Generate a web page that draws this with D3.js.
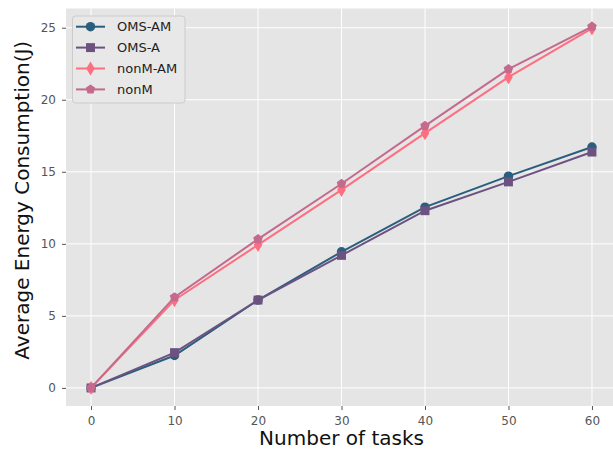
<!DOCTYPE html>
<html><head><meta charset="utf-8">
<script src="https://cdn.jsdelivr.net/npm/d3@7"></script>
<style>body{margin:0;background:#fff}svg{display:block;font-family:"DejaVu Sans",sans-serif}</style>
</head><body><svg id="c" width="613" height="451"></svg>
<script>
const tasks = [0, 10, 20, 30, 40, 50, 60];
const omsAM = [0, 2.25, 6.1, 9.45, 12.55, 14.7, 16.72];
const omsA = [0, 2.45, 6.1, 9.2, 12.3, 14.3, 16.37];
const nonMAM = [0, 6.1, 9.93, 13.75, 17.68, 21.57, 24.95];
const nonM = [0, 6.3, 10.33, 14.17, 18.19, 22.13, 25.08];
const seriesNames = ["OMS-AM", "OMS-A", "nonM-AM", "nonM"];
const xTicks = [0, 10, 20, 30, 40, 50, 60];
const yTicks = [0, 5, 10, 15, 20, 25];

const colors = ["#2a5e7e", "#6c5280", "#ff6e80", "#c46a8c"];
const symbols = ["circle", "square", "thindiamond", "pentagon"];
const series = [omsAM, omsA, nonMAM, nonM];

const svg = d3.select("#c");
const L = 66, R = 617, T = 8.5, B = 406;
const xmin = d3.min(tasks), xmax = d3.max(tasks), xp = (xmax - xmin) * 0.05;
const allY = series.flat();
const ymin = d3.min(allY), ymax = d3.max(allY), yp = (ymax - ymin) * 0.05;
const x = d3.scaleLinear().domain([xmin - xp, xmax + xp]).range([L, R]);
const y = d3.scaleLinear().domain([ymin - yp, ymax + yp]).range([B, T]);

svg.append("rect").attr("x", L).attr("y", T).attr("width", R - L).attr("height", B - T).attr("fill", "#e5e5e5");
const g = svg.append("g");
g.selectAll(".gx").data(xTicks).enter().append("line")
  .attr("x1", d => x(d)).attr("x2", d => x(d)).attr("y1", T).attr("y2", B)
  .attr("stroke", "#fff").attr("stroke-width", 1);
g.selectAll(".gy").data(yTicks).enter().append("line")
  .attr("y1", d => y(d)).attr("y2", d => y(d)).attr("x1", L).attr("x2", R)
  .attr("stroke", "#fff").attr("stroke-width", 1);

const xa = svg.append("g").attr("transform", `translate(0,${B})`)
  .call(d3.axisBottom(x).tickValues(xTicks).tickSize(4).tickPadding(6));
const ya = svg.append("g").attr("transform", `translate(${L},0)`)
  .call(d3.axisLeft(y).tickValues(yTicks).tickSize(4).tickPadding(6));
[xa, ya].forEach(a => {
  a.select(".domain").remove();
  a.selectAll("line").attr("stroke", "#555");
  a.selectAll("text").attr("fill", "#555").style("font-size", "12px").style("font-family", "DejaVu Sans");
});

function sym(name, size) {
  if (name === "circle") return d3.symbol(d3.symbolCircle, size)();
  if (name === "square") return d3.symbol(d3.symbolSquare, size)();
  if (name === "thindiamond") {
    const h = Math.sqrt(size) * 0.75, w = h * 0.6;
    return `M0,${-h}L${w},0L0,${h}L${-w},0Z`;
  }
  if (name === "pentagon") {
    const r = Math.sqrt(size) * 0.6;
    let p = "";
    for (let i = 0; i < 5; i++) {
      const a = -Math.PI / 2 + i * 2 * Math.PI / 5;
      p += (i ? "L" : "M") + (r * Math.cos(a)).toFixed(2) + "," + (r * Math.sin(a)).toFixed(2);
    }
    return p + "Z";
  }
}
const sizes = [70, 80, 90, 70];

const plot = svg.append("g");
series.forEach((vals, i) => {
  const pts = tasks.map((t, j) => [t, vals[j]]);
  plot.append("path").datum(pts)
    .attr("d", d3.line().x(d => x(d[0])).y(d => y(d[1])))
    .attr("fill", "none").attr("stroke", colors[i]).attr("stroke-width", 2);
  plot.selectAll(".m" + i).data(pts).enter().append("path")
    .attr("transform", d => `translate(${x(d[0])},${y(d[1])})`)
    .attr("d", sym(symbols[i], sizes[i])).attr("fill", colors[i]);
});

// legend
const lg = svg.append("g");
lg.append("rect").attr("x", 72.5).attr("y", 16).attr("width", 112.5).attr("height", 87).attr("rx", 3)
  .attr("fill", "#e8e8e8").attr("stroke", "#cccccc").attr("stroke-width", 1);
seriesNames.forEach((n, i) => {
  const cy = 26.7 + i * 20.9;
  lg.append("line").attr("x1", 76).attr("x2", 105).attr("y1", cy).attr("y2", cy)
    .attr("stroke", colors[i]).attr("stroke-width", 2);
  lg.append("path").attr("transform", `translate(90.5,${cy})`).attr("d", sym(symbols[i], sizes[i])).attr("fill", colors[i]);
  lg.append("text").attr("x", 117).attr("y", cy).attr("dy", "0.35em").text(n)
    .style("font-size", "13px").attr("fill", "#222");
});

svg.append("text").attr("x", x(30)).attr("y", 445).attr("text-anchor", "middle")
  .style("font-size", "20px").attr("fill", "#111").text("Number of tasks");
svg.append("text").attr("transform", `translate(29,${(T + B) / 2 - 7}) rotate(-90)`).attr("text-anchor", "middle")
  .style("font-size", "20px").attr("fill", "#111").text("Average Energy Consumption(J)");
</script></body></html>
